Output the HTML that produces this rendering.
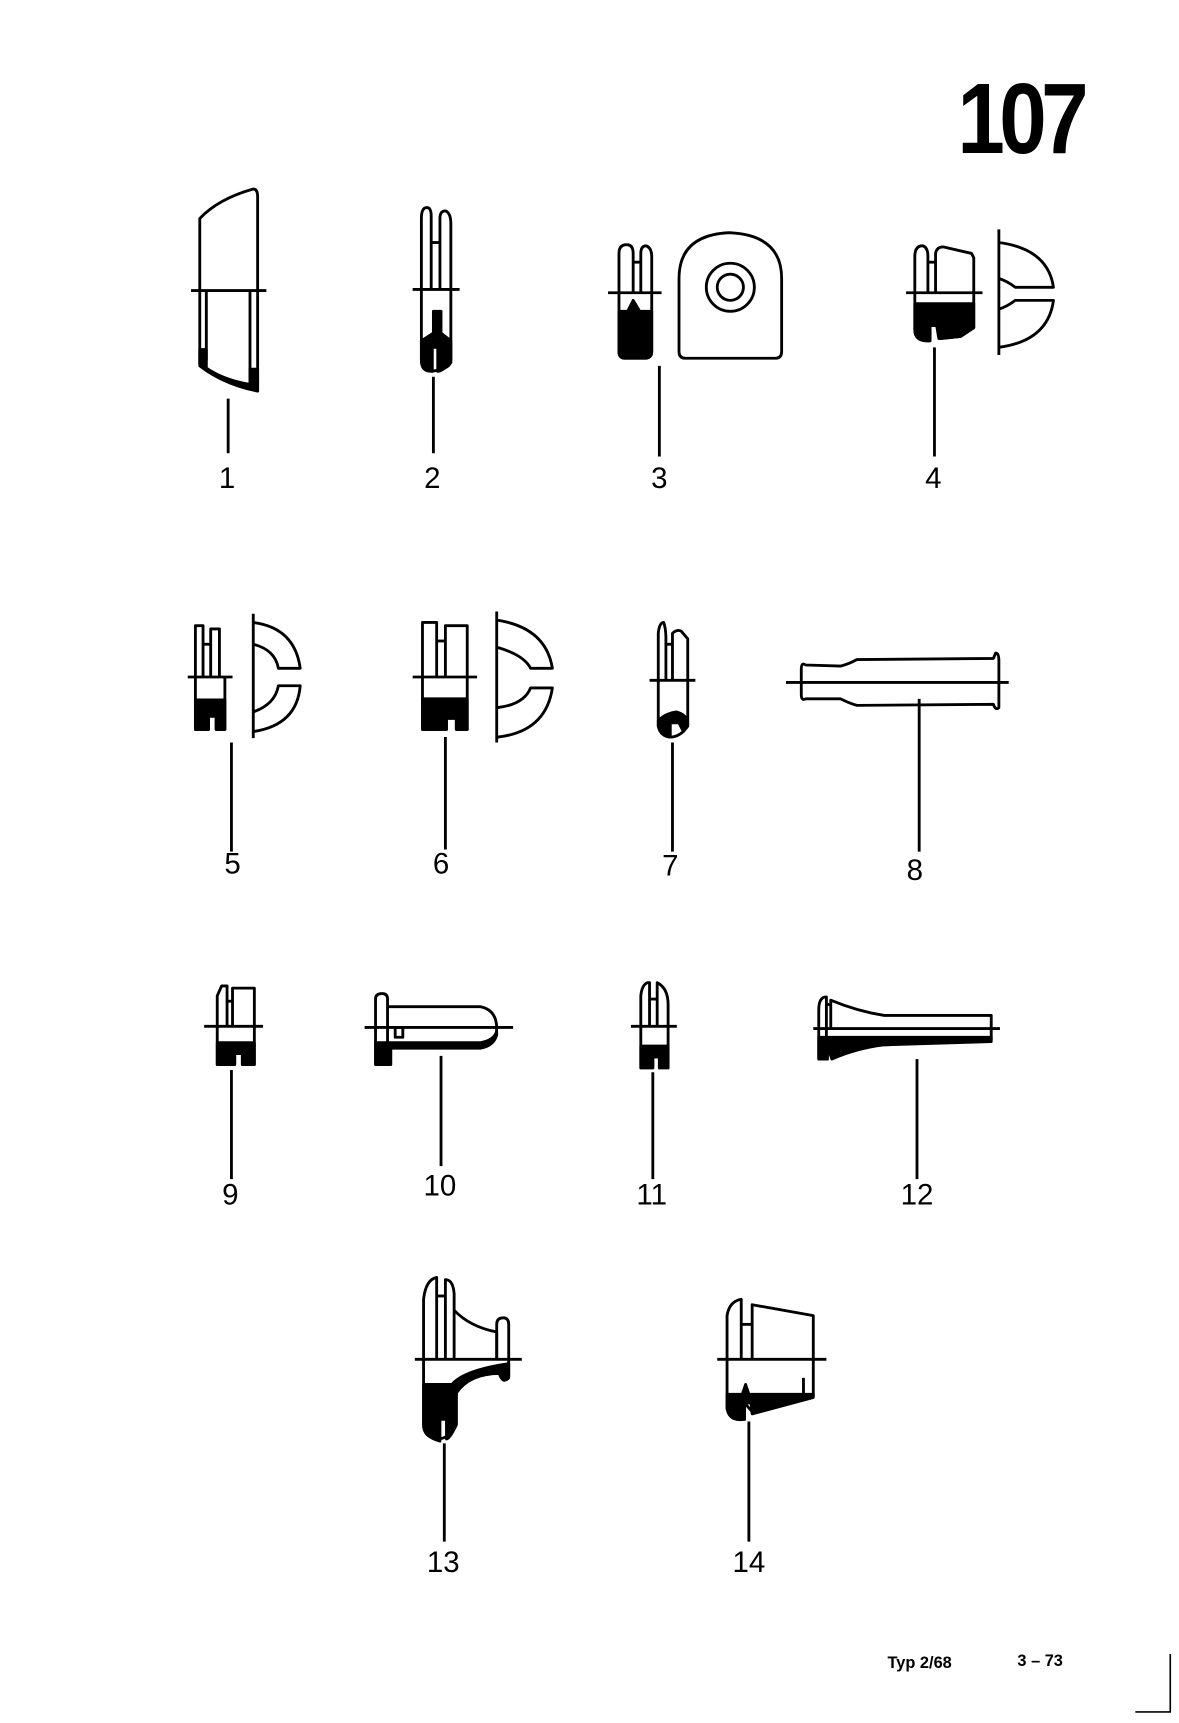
<!DOCTYPE html>
<html><head><meta charset="utf-8"><style>
html,body{margin:0;padding:0;background:#fff}
svg{display:block}
text{font-family:"Liberation Sans",sans-serif;fill:#000}
.l{font-size:27px;text-anchor:middle}
</style></head><body>
<svg width="1179" height="1723" viewBox="0 0 1080 1578" xmlns="http://www.w3.org/2000/svg">
<g fill="none" stroke="#000" stroke-width="2.6" stroke-linejoin="round">
<!-- 1 -->
<path d="M183,200 Q200,182 232,173 Q236,173 236,180 L236,358 Q205,352 183,333 Z"/>
<line x1="175" y1="266" x2="244" y2="266"/>
<line x1="189" y1="266" x2="189" y2="330"/><line x1="229" y1="266" x2="229" y2="350"/>
<path d="M183,320 L189,320 L189,337 Q205,348 229,352 L229,338 L236,338 L236,358 Q205,352 183,335 Z" fill="#000"/>
<line x1="209" y1="365" x2="209" y2="415"/>
<!-- 2 -->
<path d="M386,265 L386,200 Q386,190 391,190 Q395,190 395,198 L395,265"/>
<path d="M403,265 L403,200 Q403,193 408,193 Q413,195 413,205 L413,265"/>
<path d="M386,265 L386,330 Q386,340 395,340 Q413,338 413,330 L413,265"/>
<line x1="395" y1="222" x2="403" y2="222"/>
<line x1="378" y1="265" x2="421" y2="265"/>
<path d="M386,312 L397,305 L397,285 L404,285 L404,305 L413,312 L413,332 Q405,340 401,340 L401,318 L396,318 L396,340 Q386,337 386,330 Z" fill="#000"/>
<line x1="397" y1="345" x2="397" y2="415"/>
<!-- 3 -->
<path d="M567,268 L567,232 Q567,224 574,224 Q580,224 580,232 L580,268"/>
<path d="M587,268 L587,232 Q587,225 592,225 Q597,227 597,235 L597,268"/>
<path d="M567,268 L567,322 Q567,328 573,328 L590,328 Q597,328 597,322 L597,268"/>
<line x1="580" y1="240" x2="587" y2="240"/>
<line x1="557" y1="268" x2="606" y2="268"/>
<path d="M567,285 L575,285 L580,275 L586,285 L597,285 L597,322 Q597,328 590,328 L573,328 Q567,328 567,322 Z" fill="#000"/>
<line x1="604" y1="335" x2="604" y2="418"/>
<path d="M622,255 Q622,215 668,213 Q716,215 716,255 L716,322 Q716,328 710,328 L628,328 Q622,328 622,322 Z"/>
<circle cx="669" cy="263" r="22"/><circle cx="669" cy="263" r="12"/>
<!-- 4 -->
<path d="M838,268 L838,235 Q838,225 845,225 Q850,226 850,235 L850,268"/>
<path d="M857,268 L857,232 Q858,226 864,226 L890,232 L892,236 L892,268"/>
<path d="M838,268 L838,302 Q838,313 852,312 L852,298 L858,298 L860,310 L880,308 L892,300 L892,268"/>
<line x1="850" y1="240" x2="857" y2="240"/>
<line x1="830" y1="268" x2="900" y2="268"/>
<path d="M838,278 L892,278 L892,300 L880,308 L862,310 L858,298 L852,298 L852,312 Q838,313 838,302 Z" fill="#000"/>
<line x1="856" y1="318" x2="856" y2="418"/>
<line x1="915" y1="210" x2="915" y2="325"/>
<path d="M915,222 Q960,228 965,263 L930,263 Q922,257 915,255 M915,283 Q922,281 930,275 L965,275 Q960,312 915,318"/>
<!-- 5 -->
<path d="M179,620 L179,573 L186,573 L186,620 M193,620 L193,576 L201,576 L201,620"/>
<path d="M179,620 L179,668 L191,668 L191,656 L198,656 L198,668 L206,668 L206,620"/>
<line x1="186" y1="590" x2="193" y2="590"/>
<line x1="172" y1="620" x2="213" y2="620"/>
<path d="M179,641 L206,641 L206,668 L198,668 L198,655 L191,655 L191,668 L179,668 Z" fill="#000"/>
<line x1="212" y1="680" x2="212" y2="780"/>
<line x1="232" y1="562" x2="232" y2="676"/>
<path d="M232,570 Q270,575 275,612 L255,612 Q252,595 232,590 M232,652 Q252,645 255,628 L275,628 Q272,664 232,670"/>
<!-- 6 -->
<path d="M387,620 L387,570 L400,570 L400,620 M408,620 L408,573 L428,573 L428,620"/>
<path d="M387,620 L387,668 L409,668 L409,658 L418,658 L418,668 L428,668 L428,620"/>
<line x1="400" y1="587" x2="408" y2="587"/>
<line x1="378" y1="620" x2="437" y2="620"/>
<path d="M387,640 L428,640 L428,668 L418,668 L418,656 L409,656 L409,668 L387,668 Z" fill="#000"/>
<line x1="408" y1="675" x2="408" y2="778"/>
<line x1="455" y1="560" x2="455" y2="680"/>
<path d="M456,568 Q500,575 506,612 L486,612 Q480,600 456,593 M456,648 Q480,645 486,630 L506,630 Q500,670 456,675"/>
<!-- 7 -->
<path d="M603,622 L603,580 Q604,570 608,570 Q610,576 610,585 L610,622"/>
<path d="M616,622 L616,580 Q620,576 624,578 L630,585 L630,622"/>
<path d="M603,622 L603,665 Q605,674 614,675 Q623,675 630,665 L630,622"/>
<line x1="610" y1="590" x2="616" y2="590"/>
<line x1="595" y1="623" x2="637" y2="623"/>
<path d="M603,660 Q610,653 620,652 Q630,655 630,663 L626,670 L622,662 L614,662 L614,675 Q605,674 603,665 Z" fill="#000"/>
<line x1="616" y1="680" x2="616" y2="780"/>
<!-- 8 -->
<path d="M734,613 Q734,606 738,609 L770,610 Q778,608 785,604 L910,603 L912,598 Q915,598 915,605 L915,648 Q912,651 910,645 L785,646 Q778,644 770,640 L738,640 Q734,642 734,636 Z"/>
<line x1="720" y1="625" x2="924" y2="625"/>
<line x1="842" y1="640" x2="842" y2="780"/>
<!-- 9 -->
<path d="M199,940 L199,912 L203,903 L208,903 L208,940 M213,940 L213,905 L233,905 L233,940"/>
<path d="M199,940 L199,975 L215,975 L215,965 L222,965 L222,975 L233,975 L233,940"/>
<line x1="208" y1="917" x2="213" y2="917"/>
<line x1="187" y1="940" x2="241" y2="940"/>
<path d="M199,955 L233,955 L233,975 L222,975 L222,965 L215,965 L215,975 L199,975 Z" fill="#000"/>
<line x1="212" y1="980" x2="212" y2="1080"/>
<!-- 10 -->
<path d="M344,975 L344,915 Q344,910 350,910 Q355,910 355,915 L355,975"/>
<path d="M355,922 L440,922 Q455,925 455,942 Q455,955 440,958 L358,958"/>
<line x1="334" y1="941" x2="470" y2="941"/>
<rect x="362" y="941" width="7" height="9"/>
<path d="M344,955 L440,955 Q452,953 455,945 L455,948 Q452,958 440,960 L358,960 L358,975 L344,975 Z" fill="#000"/>
<line x1="404" y1="967" x2="404" y2="1068"/>
<!-- 11 -->
<path d="M587,940 L587,912 Q588,902 593,900 L595,900 L595,940 M602,940 L602,900 Q612,905 612,920 L612,940"/>
<path d="M587,940 L587,978 L598,978 L598,968 L604,968 L604,978 L612,978 L612,940"/>
<line x1="595" y1="915" x2="602" y2="915"/>
<line x1="578" y1="940" x2="620" y2="940"/>
<path d="M587,958 L612,958 L612,978 L604,978 L604,968 L598,968 L598,978 L587,978 Z" fill="#000"/>
<line x1="598" y1="982" x2="598" y2="1080"/>
<!-- 12 -->
<path d="M750,970 L750,925 Q750,913 757,913 L757,970"/>
<path d="M761,942 L761,916 Q785,926 810,930 L908,930 L908,952 L810,954 Q785,958 762,968"/>
<line x1="757" y1="920" x2="761" y2="920"/>
<line x1="745" y1="942" x2="916" y2="942"/>
<path d="M750,950 L908,950 L908,954 L810,957 Q785,960 762,970 L758,958 L758,970 L750,970 Z" fill="#000"/>
<line x1="840" y1="970" x2="840" y2="1080"/>
<!-- 13 -->
<path d="M388,1245 L388,1190 Q390,1172 400,1170 L400,1245"/>
<path d="M408,1245 L408,1172 Q415,1172 416,1185 L416,1245"/>
<line x1="400" y1="1187" x2="408" y2="1187"/>
<path d="M416,1200 Q430,1215 455,1220 L455,1245"/>
<path d="M455,1245 L455,1213 Q455,1207 461,1207 Q466,1207 466,1213 L466,1245"/>
<path d="M388,1245 L388,1305 Q388,1316 400,1318 Q412,1318 418,1305 L418,1273 Q430,1255 458,1255 L458,1260 Q462,1268 466,1260 L466,1245"/>
<line x1="380" y1="1245" x2="478" y2="1245"/>
<path d="M388,1268 L414,1268 Q425,1255 466,1249 L466,1262 Q460,1268 458,1258 Q430,1258 418,1276 L418,1305 Q412,1318 409,1318 L409,1300 L403,1300 L403,1320 Q388,1316 388,1305 Z" fill="#000"/>
<line x1="407" y1="1322" x2="407" y2="1412"/>
<!-- 14 -->
<path d="M666,1290 L666,1205 Q668,1192 679,1190 L679,1245"/>
<path d="M689,1245 L689,1195 L745,1205 L745,1245"/>
<line x1="679" y1="1213" x2="689" y2="1213"/>
<path d="M745,1245 L745,1278 L689,1293 L682,1285 L682,1300 L677,1300 Q668,1300 666,1290"/>
<line x1="657" y1="1245" x2="757" y2="1245"/>
<path d="M666,1277 L680,1277 L683,1268 L686,1277 L745,1277 L745,1280 L689,1295 L688,1285 L682,1285 L682,1300 Q668,1302 666,1290 Z" fill="#000"/>
<line x1="736" y1="1262" x2="736" y2="1277"/>
<line x1="686" y1="1302" x2="686" y2="1412"/>
</g>
<text class="l" x="208" y="447">1</text>
<text class="l" x="396" y="447">2</text>
<text class="l" x="604" y="447">3</text>
<text class="l" x="855" y="447">4</text>
<text class="l" x="213" y="800">5</text>
<text class="l" x="404" y="800">6</text>
<text class="l" x="614" y="802">7</text>
<text class="l" x="838" y="806">8</text>
<text class="l" x="211" y="1103">9</text>
<text class="l" x="403" y="1095">10</text>
<text class="l" x="597" y="1103">11</text>
<text class="l" x="840" y="1103">12</text>
<text class="l" x="406" y="1440">13</text>
<text class="l" x="686" y="1440">14</text>
<text x="877" y="140" style="font-size:92px;font-weight:bold;letter-spacing:-6px" transform="translate(877 0) scale(0.85 1) translate(-877 0)">107</text>
<text x="813" y="1528" style="font-size:15px;font-weight:bold">Typ  2/68</text>
<text x="932" y="1526" style="font-size:15px;font-weight:bold">3 – 73</text>
<path d="M1072,1515 L1072,1568 L1040,1568" fill="none" stroke="#000" stroke-width="1.5"/>
</svg>
</body></html>
